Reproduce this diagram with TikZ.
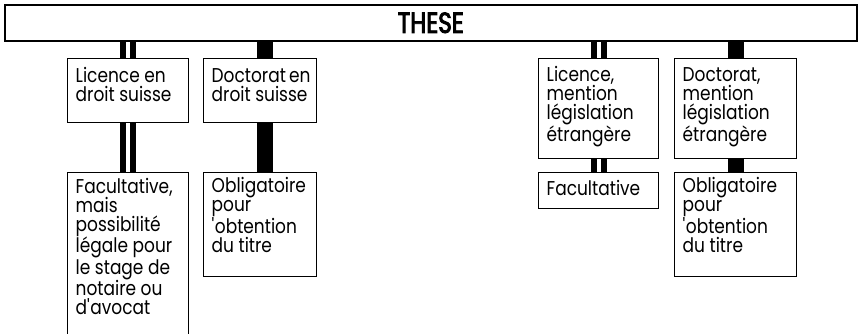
\documentclass[tikz,border=0pt]{standalone}
\usepackage{fontspec}
\setmainfont{Poppins}[FakeStretch=0.85]
\newfontfamily\titlefont{Poppins}[FakeStretch=0.8]
\usetikzlibrary{calc}
\tikzset{
  bx/.style={draw, line width=1.4pt, anchor=north west, inner xsep=8pt, inner ysep=0pt, align=left},
  band/.style={draw, line width=1.5pt, anchor=north west, inner sep=0pt, minimum width=852pt, minimum height=36pt},
  dblbar/.style={line width=6pt},
  fullbar/.style={line width=16pt},
}
\newcommand\bxt[4]{\parbox[c][#1][t]{#2}{\raggedright\fontsize{20}{18.7}\selectfont\rule{0pt}{#3}#4}}
\newcommand\apo{\textquotesingle}
\newcommand\heavytext[1]{\special{pdf:literal direct 2 Tr 0.9 w}#1\special{pdf:literal direct 0 Tr}}
\begin{document}
\begin{tikzpicture}[x=1pt,y=-1pt]
\useasboundingbox (0,0) rectangle (859,333);
\node[band] (band) at (4,4) {\titlefont\fontsize{29}{30}\selectfont\heavytext{THESE}};
\node[bx] (b1) at (67,58)  {\bxt{64pt}{105pt}{24pt}{Licence~en\\droit~suisse}};
\node[bx] (b2) at (203,58) {\bxt{64pt}{97pt}{24pt}{Doctorat~en\\droit~suisse}};
\node[bx] (b3) at (67,172) {\bxt{175pt}{105pt}{21pt}{Facultative,\\mais\\possibilité\\légale~pour\\le~stage~de\\notaire~ou\\d\apo avocat}};
\node[bx] (b4) at (203,172) {\bxt{104pt}{97pt}{20pt}{Obligatoire\\pour\\\apo obtention\\du~titre}};
\node[bx] (b5) at (538,58) {\bxt{100pt}{104pt}{23pt}{Licence,\\mention\\législation\\étrangère}};
\node[bx] (b6) at (674,58) {\bxt{100pt}{106pt}{23pt}{Doctorat,\\mention\\législation\\étrangère}};
\node[bx] (b7) at (538,172) {\bxt{36pt}{104pt}{23pt}{Facultative}};
\node[bx] (b8) at (674,172) {\bxt{104pt}{106pt}{20pt}{Obligatoire\\pour\\\apo obtention\\du~titre}};
% double bars
\foreach \s in {-5,5} {
  \draw[dblbar] ($(band.south -| b1.north)+(\s,0)$) -- ($(b1.north)+(\s,0)$);
  \draw[dblbar] ($(b1.south)+(\s,0)$) -- ($(b3.north)+(\s,0)$);
  \draw[dblbar] ($(band.south -| b5.north)+(\s,0)$) -- ($(b5.north)+(\s,0)$);
  \draw[dblbar] ($(b5.south)+(\s,0)$) -- ($(b7.north)+(\s,0)$);
}
% solid bars
\draw[fullbar] ($(band.south -| b2.north)+(5,0)$) -- ($(b2.north)+(5,0)$);
\draw[fullbar] ($(b2.south)+(5,0)$) -- ($(b4.north)+(5,0)$);
\draw[fullbar] (band.south -| b6.north) -- (b6.north);
\draw[fullbar] (b6.south) -- (b8.north);
\end{tikzpicture}
\end{document}
